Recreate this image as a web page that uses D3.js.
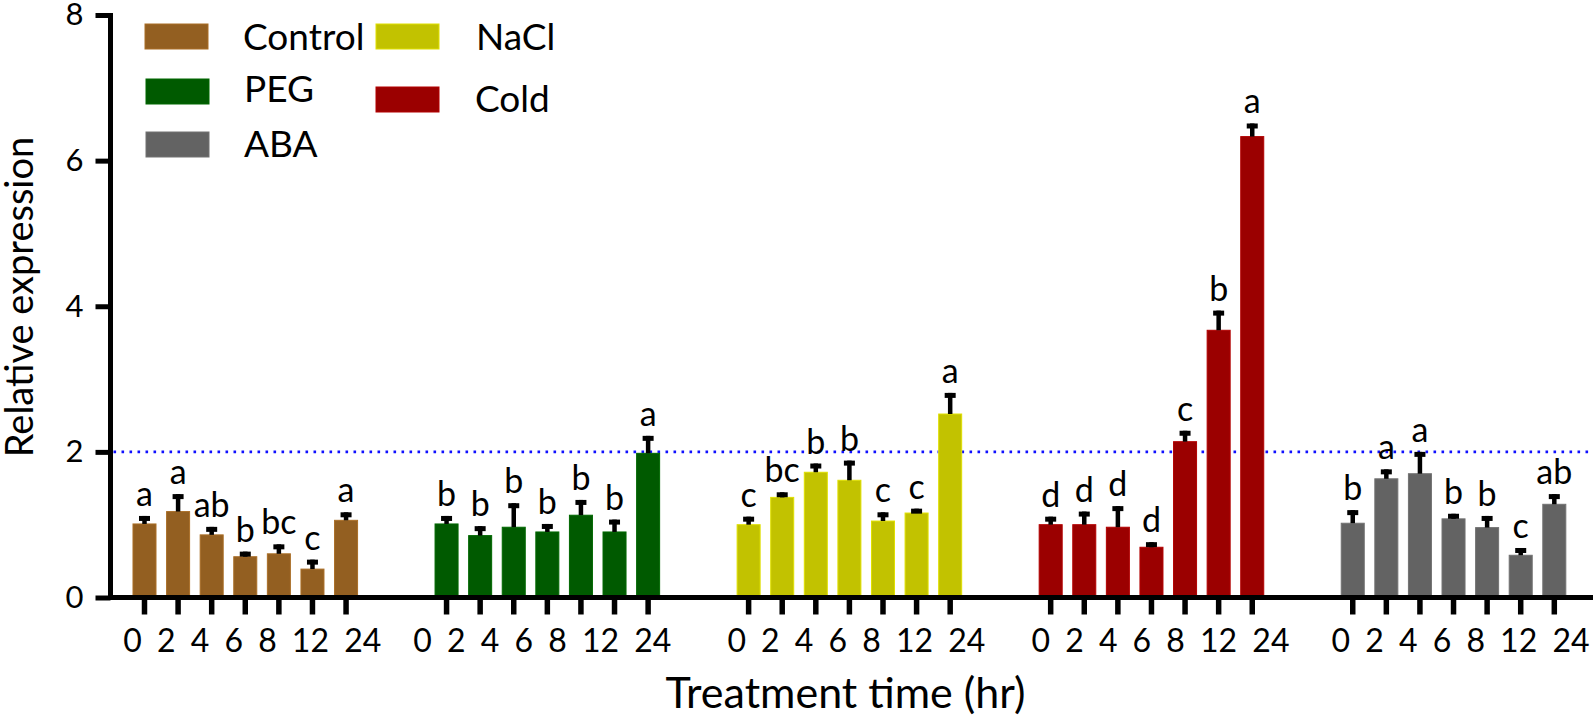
<!DOCTYPE html>
<html>
<head>
<meta charset="utf-8">
<script src="https://cdn.jsdelivr.net/npm/d3@7"></script>
<style>
  html, body { margin: 0; padding: 0; background: #fff; }
  svg { display: block; }
  text { font-family: Lato, "Open Sans", sans-serif; fill: #000; }
</style>
</head>
<body>
<svg id="chart" width="1596" height="719"></svg>
<script>
// ---- data ----
const treatments = ["Control", "PEG", "NaCl", "Cold", "ABA"];
const times = ["0", "2", "4", "6", "8", "12", "24"];
const yTicks = [0, 2, 4, 6, 8];
const threshold = 2;

const controlMean = [1.01, 1.18, 0.86, 0.56, 0.60, 0.39, 1.06];
const controlSD   = [0.11, 0.24, 0.11, 0.07, 0.13, 0.13, 0.11];
const controlSig  = ["a", "a", "ab", "b", "bc", "c", "a"];

const pegMean = [1.01, 0.85, 0.965, 0.90, 1.13, 0.90, 1.98];
const pegSD   = [0.11, 0.13, 0.33, 0.11, 0.21, 0.17, 0.24];
const pegSig  = ["b", "b", "b", "b", "b", "b", "a"];

const naclMean = [1.00, 1.375, 1.72, 1.61, 1.05, 1.16, 2.52];
const naclSD   = [0.11, 0.07, 0.12, 0.27, 0.12, 0.06, 0.29];
const naclSig  = ["c", "bc", "b", "b", "c", "c", "a"];

const coldMean = [1.00, 1.00, 0.965, 0.69, 2.14, 3.67, 6.33];
const coldSD   = [0.11, 0.18, 0.29, 0.07, 0.15, 0.27, 0.18];
const coldSig  = ["d", "d", "d", "d", "c", "b", "a"];

const abaMean = [1.02, 1.63, 1.70, 1.08, 0.96, 0.58, 1.28];
const abaSD   = [0.18, 0.13, 0.30, 0.07, 0.16, 0.10, 0.14];
const abaSig  = ["b", "a", "a", "b", "b", "c", "ab"];

const colors = ["#935f21", "#005a00", "#c2c200", "#9b0000", "#636363"];

// ---- build table ----
const seriesMean = [controlMean, pegMean, naclMean, coldMean, abaMean];
const seriesSD = [controlSD, pegSD, naclSD, coldSD, abaSD];
const seriesSig = [controlSig, pegSig, naclSig, coldSig, abaSig];
const rows = [];
treatments.forEach((t, gi) => {
  times.forEach((h, ti) => {
    rows.push({ group: t, time: h, mean: seriesMean[gi][ti], sd: seriesSD[gi][ti], sig: seriesSig[gi][ti], color: colors[gi] });
  });
});

// ---- layout ----
const svg = d3.select("#chart");
const axisX = 110.5, axisY = 597.5, axisRight = 1593, axisTop = 13;

const y = d3.scaleLinear().domain([0, 8]).range([axisY, 15]);
const x0 = d3.scaleBand().domain(treatments).range([127.7, 1571.1]).paddingInner(0.2215).paddingOuter(0);
const x1 = d3.scaleBand().domain(times).range([0, x0.bandwidth()]).paddingInner(0.315).paddingOuter(0.1575);

// threshold dotted line
svg.append("line")
  .attr("x1", axisX + 3).attr("x2", axisRight)
  .attr("y1", y(threshold)).attr("y2", y(threshold))
  .attr("stroke", "#1010ff").attr("stroke-width", 2.6)
  .attr("stroke-dasharray", "2.6 5.4");

// bars
const bars = svg.append("g");
bars.selectAll("rect").data(rows).join("rect")
  .attr("x", d => x0(d.group) + x1(d.time))
  .attr("y", d => y(d.mean))
  .attr("width", x1.bandwidth())
  .attr("height", d => y(0) - y(d.mean))
  .attr("fill", d => d.color)
  .attr("stroke", d => d3.color(d.color).brighter(0.4))
  .attr("stroke-width", 1);

// error bars (upper only)
const cx = d => x0(d.group) + x1(d.time) + x1.bandwidth() / 2;
const eb = svg.append("g");
eb.selectAll("line.stem").data(rows).join("line").attr("class", "stem")
  .attr("x1", cx).attr("x2", cx)
  .attr("y1", d => y(d.mean)).attr("y2", d => y(d.mean + d.sd))
  .attr("stroke", "#000").attr("stroke-width", 4.5);
eb.selectAll("rect.cap").data(rows).join("rect").attr("class", "cap")
  .attr("x", d => cx(d) - 5.5).attr("y", d => y(d.mean + d.sd))
  .attr("width", 11).attr("height", 5).attr("fill", "#000");

// significance letters
svg.append("g").selectAll("text").data(rows).join("text")
  .attr("x", cx)
  .attr("y", d => y(d.mean + d.sd) - 10)
  .attr("text-anchor", "middle")
  .attr("font-size", 34)
  .text(d => d.sig);

// y axis
const yAxis = svg.append("g").attr("transform", `translate(${axisX},0)`)
  .call(d3.axisLeft(y).tickValues(yTicks).tickSize(15).tickPadding(12).tickFormat(d3.format("d")));
yAxis.select(".domain").remove();
yAxis.selectAll(".tick line").attr("stroke", "#000").attr("stroke-width", 5);
yAxis.selectAll(".tick text").attr("font-size", 31).attr("font-family", "Lato, sans-serif");

// x axes per group (tick marks); labels set as one spaced line per group
const labelShift = [7, -5, 7, 9, 7];
treatments.forEach((t, i) => {
  const g = svg.append("g").attr("transform", `translate(${x0(t)},${axisY})`)
    .call(d3.axisBottom(x1).tickSize(17).tickFormat(""));
  g.select(".domain").remove();
  g.selectAll(".tick line").attr("stroke", "#000").attr("stroke-width", 5.5);
  const lbl = svg.append("text")
    .attr("x", x0(t) + x0.bandwidth() / 2 + labelShift[i])
    .attr("y", 652)
    .attr("text-anchor", "middle")
    .attr("font-size", 32)
    .text(times.join(" "));
  const natural = lbl.node().getComputedTextLength();
  const target = 258;
  lbl.attr("word-spacing", (target - natural) / (times.length - 1));
});

// axis lines
svg.append("line").attr("x1", axisX).attr("x2", axisX).attr("y1", axisTop).attr("y2", axisY + 2.5)
  .attr("stroke", "#000").attr("stroke-width", 5);
svg.append("line").attr("x1", axisX - 2.5).attr("x2", axisRight).attr("y1", axisY).attr("y2", axisY)
  .attr("stroke", "#000").attr("stroke-width", 5);

// axis titles
svg.append("text").attr("x", 845.5).attr("y", 708).attr("text-anchor", "middle")
  .attr("font-size", 43).text("Treatment time (hr)");
svg.append("text").attr("transform", "translate(33,297) rotate(-90)").attr("text-anchor", "middle")
  .attr("font-size", 38).text("Relative expression");

// legend
const legendPos = [
  { sx: 145, sy: 24, tx: 243, ty: 50 },
  { sx: 146, sy: 79, tx: 244, ty: 102 },
  { sx: 376, sy: 24, tx: 476, ty: 50 },
  { sx: 376, sy: 87, tx: 475, ty: 112 },
  { sx: 146, sy: 132, tx: 244, ty: 157 }
];
const leg = svg.append("g");
treatments.forEach((t, i) => {
  const p = legendPos[i];
  leg.append("rect").attr("x", p.sx).attr("y", p.sy).attr("width", 63).attr("height", 25)
    .attr("fill", colors[i]).attr("stroke", d3.color(colors[i]).brighter(0.4)).attr("stroke-width", 1);
  leg.append("text").attr("x", p.tx).attr("y", p.ty).attr("font-size", 37).text(t);
});
</script>
</body>
</html>
